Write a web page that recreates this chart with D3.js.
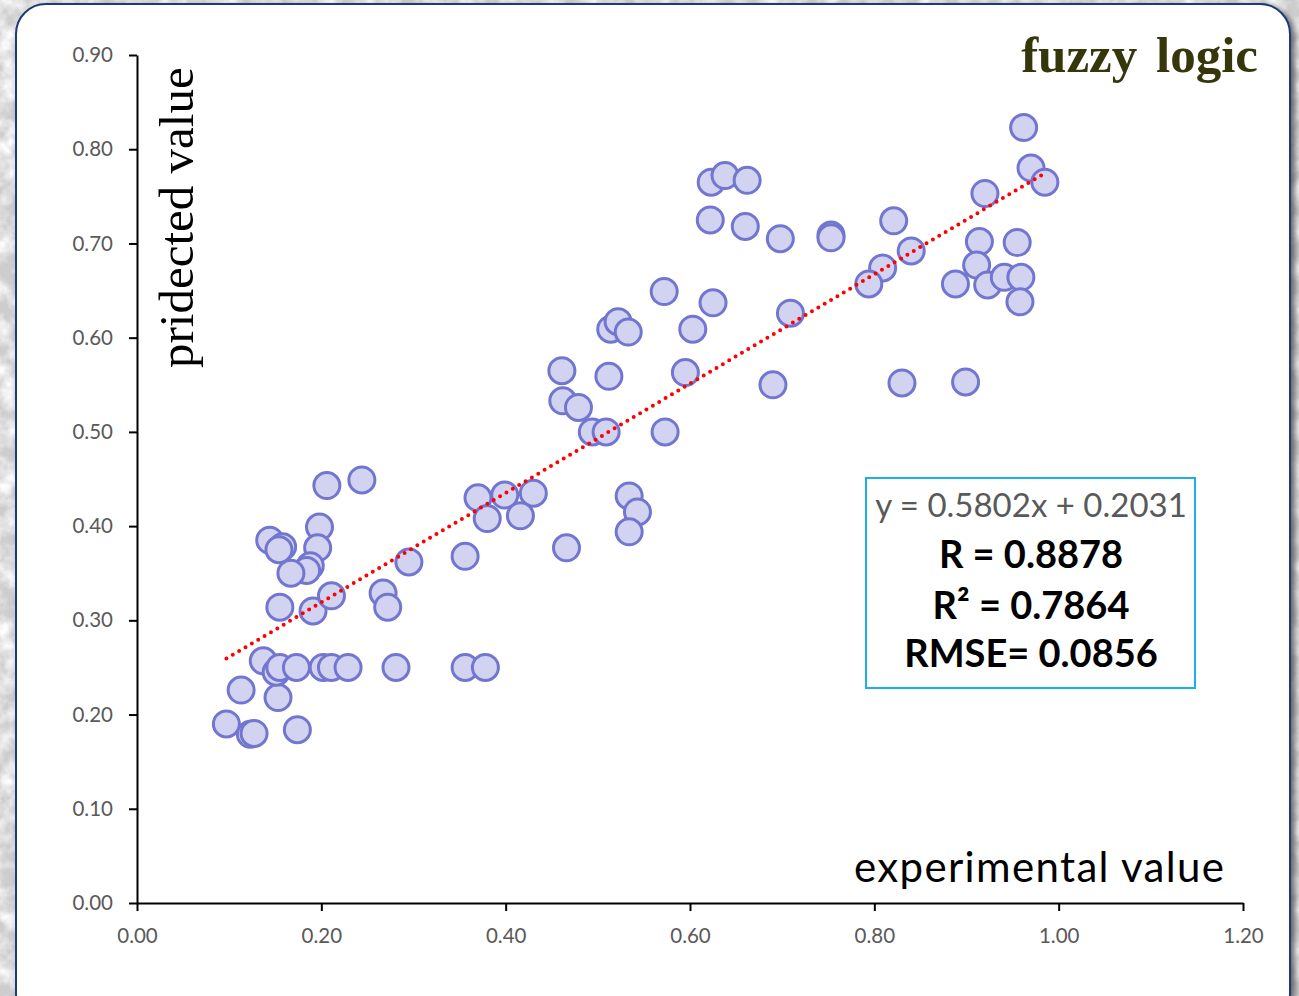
<!DOCTYPE html>
<html>
<head>
<meta charset="utf-8">
<script src="https://cdn.jsdelivr.net/npm/d3@7"></script>
<style>
  body { margin: 0; background: #ddd; }
  svg { display: block; }
</style>
</head>
<body>
<div id="container"></div>
<script>
// values
let expX = [
  0.097, 0.113, 0.123, 0.127, 0.153, 0.174,
  0.137, 0.151, 0.155, 0.173, 0.202, 0.211, 0.229, 0.281, 0.356, 0.378,
  0.206, 0.244, 0.198, 0.144, 0.158, 0.154, 0.196, 0.188, 0.184, 0.167, 0.295, 0.155, 0.191, 0.211, 0.267, 0.272,
  0.370, 0.399, 0.430, 0.380, 0.416, 0.356, 0.466, 0.534, 0.543, 0.534,
  0.461, 0.512, 0.595, 0.690, 0.462, 0.479, 0.494, 0.509, 0.573,
  0.514, 0.522, 0.533, 0.572, 0.603, 0.625, 0.709,
  0.623, 0.638, 0.662, 0.622, 0.660, 0.698, 0.753, 0.753,
  0.821, 0.840, 0.809, 0.794, 0.920, 0.914, 0.911, 0.888, 0.923, 0.941, 0.959, 0.955, 0.958, 0.962, 0.970, 0.985, 0.830, 0.899
];
let predY = [
  0.190, 0.226, 0.179, 0.180, 0.218, 0.184,
  0.257, 0.245, 0.250, 0.250, 0.250, 0.250, 0.250, 0.250, 0.250, 0.250,
  0.443, 0.449, 0.399, 0.385, 0.378, 0.375, 0.377, 0.358, 0.353, 0.350, 0.362, 0.314, 0.310, 0.326, 0.329, 0.314,
  0.430, 0.433, 0.435, 0.408, 0.411, 0.368, 0.377, 0.432, 0.415, 0.394,
  0.565, 0.559, 0.563, 0.550, 0.533, 0.526, 0.500, 0.500, 0.500,
  0.609, 0.617, 0.606, 0.649, 0.609, 0.637, 0.626,
  0.765, 0.772, 0.767, 0.725, 0.718, 0.705, 0.709, 0.706,
  0.724, 0.692, 0.674, 0.657, 0.753, 0.702, 0.677, 0.657, 0.656, 0.664, 0.664, 0.701, 0.638, 0.823, 0.780, 0.765, 0.552, 0.553
];
let xTicks = [0, 0.2, 0.4, 0.6, 0.8, 1.0, 1.2];
let yTicks = [0, 0.1, 0.2, 0.3, 0.4, 0.5, 0.6, 0.7, 0.8, 0.9];
let slope = 0.5802;
let intercept = 0.2031;
let statLines = ["y = 0.5802x + 0.2031", "R = 0.8878", "R² = 0.7864", "RMSE= 0.0856"];

let W = 1299, H = 996;
let svg = d3.select("#container").append("svg").attr("width", W).attr("height", H);

let defs = svg.append("defs");
let tex = defs.append("filter").attr("id", "marble").attr("x", 0).attr("y", 0).attr("width", "100%").attr("height", "100%");
tex.append("feTurbulence").attr("type", "fractalNoise").attr("baseFrequency", 0.05).attr("numOctaves", 4).attr("seed", 7);
tex.append("feColorMatrix").attr("type", "matrix")
  .attr("values", "0 0 0 0 1  0 0 0 0 1  0 0 0 0 1  2.2 0 0 0 -0.75");
let shadow = defs.append("filter").attr("id", "shadow").attr("x", "-5%").attr("y", "-5%").attr("width", "110%").attr("height", "110%");
shadow.append("feDropShadow").attr("dx", 4).attr("dy", 3).attr("stdDeviation", 3).attr("flood-color", "#444").attr("flood-opacity", 0.8);

// background
svg.append("rect").attr("width", W).attr("height", H).attr("fill", "#cdcdcd");
svg.append("rect").attr("width", W).attr("height", H).attr("filter", "url(#marble)");

// panel
svg.append("rect")
  .attr("x", 16).attr("y", 4).attr("width", 1274).attr("height", 1020)
  .attr("rx", 30).attr("ry", 30)
  .attr("fill", "#fff").attr("stroke", "#1c3a78").attr("stroke-width", 2)
  .attr("filter", "url(#shadow)");

let x = d3.scaleLinear().domain([0, 1.2]).range([137, 1243]);
let y = d3.scaleLinear().domain([0, 0.9]).range([903, 55]);

let fmt = d3.format(".2f");

let gx = svg.append("g").attr("transform", `translate(0,${y(0)})`)
  .call(d3.axisBottom(x).tickValues(xTicks).tickFormat(fmt).tickSize(8).tickSizeOuter(0).tickPadding(17));
let gy = svg.append("g").attr("transform", `translate(${x(0)},0)`)
  .call(d3.axisLeft(y).tickValues(yTicks).tickFormat(fmt).tickSize(8).tickSizeOuter(0).tickPadding(16));

[gx, gy].forEach(g => {
  g.select(".domain").attr("stroke", "#000").attr("stroke-width", 2);
  g.selectAll(".tick line").attr("stroke", "#000").attr("stroke-width", 2);
  g.selectAll(".tick text").attr("fill", "#595959").style("font-family", "Lato, 'Open Sans', sans-serif").style("font-size", "20.5px");
});

// points
let pts = expX.map((v, i) => ({ x: v, y: predY[i] }));
svg.append("g").selectAll("circle").data(pts).join("circle")
  .attr("cx", d => x(d.x)).attr("cy", d => y(d.y)).attr("r", 13)
  .attr("fill", "#d1d3f0").attr("stroke", "#7276d0").attr("stroke-width", 3);

// trend line, dotted
let xMin = d3.min(expX), xMax = d3.max(expX);
svg.append("line")
  .attr("x1", x(xMin)).attr("y1", y(slope * xMin + intercept))
  .attr("x2", x(xMax)).attr("y2", y(slope * xMax + intercept))
  .attr("stroke", "#ff0000").attr("stroke-width", 4)
  .attr("stroke-linecap", "round").attr("stroke-dasharray", "0 7.4");

// axis titles
svg.append("text")
  .attr("transform", "translate(193,368) rotate(-90)")
  .style("font-family", "'Liberation Serif', 'Times New Roman', serif").style("font-size", "49px")
  .attr("fill", "#000").text("pridected value");

svg.append("text")
  .attr("x", 1224).attr("y", 882).attr("text-anchor", "end")
  .style("font-family", "Lato, sans-serif").style("font-size", "42px")
  .attr("textLength", 370).attr("lengthAdjust", "spacing")
  .attr("fill", "#000").text("experimental value");

svg.append("text")
  .attr("x", 1258).attr("y", 72).attr("text-anchor", "end")
  .style("font-family", "'Liberation Serif', 'Times New Roman', serif").style("font-size", "51px")
  .style("font-weight", "bold").style("word-spacing", "6px")
  .attr("fill", "#35360a").text("fuzzy logic");

// stats box
svg.append("rect")
  .attr("x", 866).attr("y", 478).attr("width", 329).attr("height", 210)
  .attr("fill", "#fff").attr("stroke", "#1cb0e8").attr("stroke-width", 2);

let baseY = [517, 568, 619, 667];
svg.append("g").selectAll("text").data(statLines).join("text")
  .attr("x", 1031).attr("y", (d, i) => baseY[i]).attr("text-anchor", "middle")
  .style("font-family", "Lato, sans-serif")
  .style("font-size", (d, i) => i === 0 ? "33px" : "38px")
  .style("font-weight", (d, i) => i === 0 ? "normal" : "bold")
  .attr("fill", (d, i) => i === 0 ? "#595959" : "#000")
  .text(d => d);
</script>
</body>
</html>
